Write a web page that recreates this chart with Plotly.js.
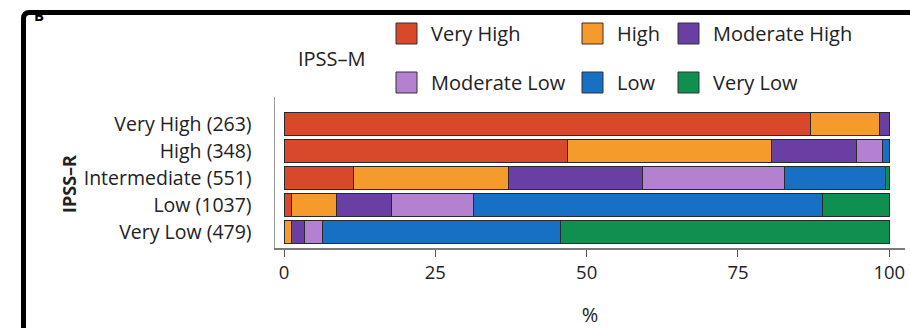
<!DOCTYPE html>
<html>
<head>
<meta charset="utf-8">
<script src="https://cdn.plot.ly/plotly-3.0.1.min.js"></script>
<style>
  html, body { margin: 0; padding: 0; background: #ffffff; }
  #chart { width: 910px; height: 328px; }
</style>
</head>
<body>
<div id="chart"></div>
<script>
// IPSS-R groups (bottom to top) with patient counts
const ipssrGroups = ["Very Low (479)", "Low (1037)", "Intermediate (551)", "High (348)", "Very High (263)"];

// IPSS-M categories and their colours
const ipssmCategories = ["Very High", "High", "Moderate High", "Moderate Low", "Low", "Very Low"];
const ipssmColors = ["#d8482b", "#f49b2c", "#6a3fa4", "#b481d0", "#1770c4", "#0f9051"];

// Percent of each IPSS-R group falling in each IPSS-M category
const pctVeryHigh     = [0.0,  1.2, 11.4, 46.9, 87.0];
const pctHigh         = [1.2,  7.5, 25.7, 33.6, 11.4];
const pctModerateHigh = [2.2,  9.1, 22.2, 14.1,  1.6];
const pctModerateLow  = [2.9, 13.5, 23.4,  4.2,  0.0];
const pctLow          = [39.3, 57.7, 16.7, 1.2,  0.0];
const pctVeryLow      = [54.4, 11.0,  0.6, 0.0,  0.0];

const seriesValues = [pctVeryHigh, pctHigh, pctModerateHigh, pctModerateLow, pctLow, pctVeryLow];

const xTicks = [0, 25, 50, 75, 100];

const FONT = "Open Sans, Noto Sans, sans-serif";
const INK = "#222222";

// plot area in pixels
const W = 910, H = 328;
const M = { l: 275, r: 5, t: 97, b: 80 };
const pw = W - M.l - M.r, ph = H - M.t - M.b;
const px = x => (x - M.l) / pw;
const py = y => (H - M.b - y) / ph;

const traces = ipssmCategories.map((name, i) => ({
  type: "bar",
  orientation: "h",
  name: name,
  x: seriesValues[i],
  y: ipssrGroups,
  marker: { color: ipssmColors[i], line: { color: "#2a2a2a", width: 1 } },
  showlegend: false,
  hoverinfo: "name+x"
}));

// legend: two rows of three swatches
const legendCols = [396, 582, 678];
const legendRows = [23, 72];
const shapes = [];
const annotations = [];
ipssmCategories.forEach((name, i) => {
  const col = legendCols[i % 3];
  const row = legendRows[Math.floor(i / 3)];
  shapes.push({
    type: "rect", xref: "paper", yref: "paper",
    x0: px(col), x1: px(col + 21), y0: py(row + 21), y1: py(row),
    fillcolor: ipssmColors[i], line: { color: "#333333", width: 1 }
  });
  annotations.push({
    xref: "paper", yref: "paper", x: px(col + 33), y: py(row + 10.5),
    xanchor: "left", yanchor: "middle", showarrow: false,
    text: name, font: { family: FONT, size: 20, color: INK }
  });
});

annotations.push({
  xref: "paper", yref: "paper", x: px(332), y: py(58),
  xanchor: "center", yanchor: "middle", showarrow: false,
  text: "IPSS–M", font: { family: FONT, size: 20, color: INK }
});
annotations.push({
  xref: "paper", yref: "paper", x: px(69), y: py(184),
  xanchor: "center", yanchor: "middle", showarrow: false, textangle: -90,
  text: "<b>IPSS–R</b>", font: { family: FONT, size: 18, color: INK }
});
annotations.push({
  xref: "paper", yref: "paper", x: px(39), y: py(15),
  xanchor: "center", yanchor: "middle", showarrow: false,
  text: "<b>B</b>", font: { family: FONT, size: 15, color: "#000000" }
});

// panel frame (top and left edges, rounded corner)
const fx = px(23.5), fy = py(12.5), r = 6;
shapes.push({
  type: "path", xref: "paper", yref: "paper",
  path: `M ${px(23.5)},${py(H + 2)} L ${fx},${py(12.5 + r)} Q ${fx},${fy} ${px(23.5 + r)},${fy} L ${px(W + 2)},${fy}`,
  line: { color: "#000000", width: 5 }, fillcolor: "rgba(0,0,0,0)", layer: "above"
});

const layout = {
  width: W, height: H,
  margin: M,
  barmode: "stack",
  bargap: 0.13,
  paper_bgcolor: "#ffffff",
  plot_bgcolor: "#ffffff",
  font: { family: FONT, color: INK },
  xaxis: {
    range: [-1.5, 102.6],
    tickvals: xTicks,
    ticktext: xTicks.map(String),
    ticks: "outside", ticklen: 7, tickcolor: "#555555", tickwidth: 1,
    showline: true, linecolor: "#7a7a7a", linewidth: 1.5,
    showgrid: false, zeroline: false,
    tickfont: { family: FONT, size: 18.5, color: INK },
    title: { text: "%", font: { family: FONT, size: 20, color: INK }, standoff: 26 }
  },
  yaxis: {
    type: "category",
    categoryorder: "array",
    categoryarray: ipssrGroups,
    range: [-0.59, 5.0],
    showline: true, linecolor: "#9a9a9a", linewidth: 1.5,
    showgrid: false, zeroline: false,
    ticks: "",
    ticklabelstandoff: 18,
    tickfont: { family: FONT, size: 19.5, color: INK }
  },
  shapes: shapes,
  annotations: annotations
};

Plotly.newPlot("chart", traces, layout, { displayModeBar: false, staticPlot: true });
</script>
</body>
</html>
